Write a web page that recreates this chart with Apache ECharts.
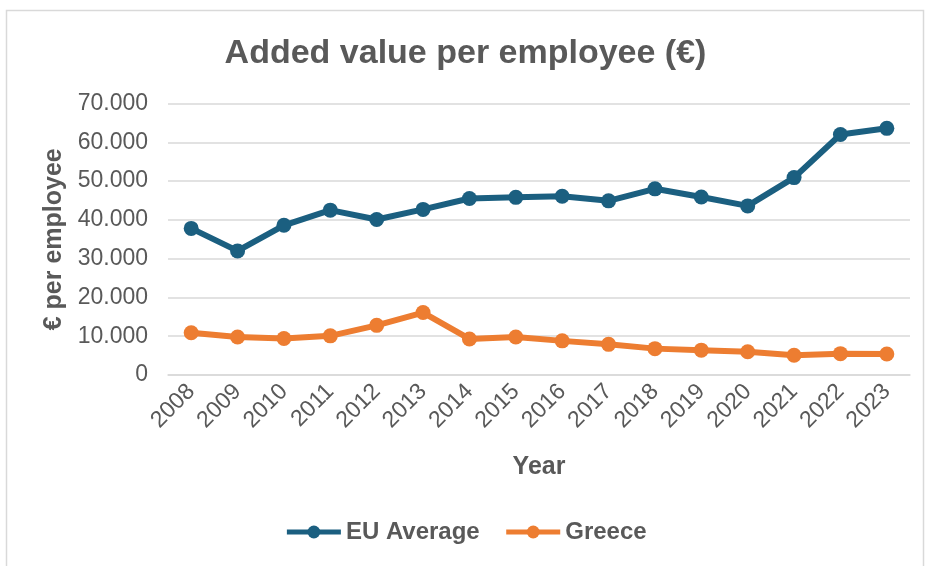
<!DOCTYPE html>
<html>
<head>
<meta charset="utf-8">
<script src="https://cdn.jsdelivr.net/npm/echarts@6/dist/echarts.min.js"></script>
<style>
html,body{margin:0;padding:0;background:#fff;}
#c{width:931px;height:566px;}
</style>
</head>
<body>
<div id="c"></div>
<script>
const years = ['2008','2009','2010','2011','2012','2013','2014','2015','2016','2017','2018','2019','2020','2021','2022','2023'];
const euAverage = [37800, 32000, 38600, 42500, 40100, 42700, 45500, 45800, 46100, 44900, 48000, 45900, 43600, 50900, 62000, 63600];
const greece = [10900, 9800, 9400, 10100, 12800, 16100, 9300, 9800, 8800, 7900, 6800, 6400, 6000, 5100, 5500, 5400];
const yTicks = [0, 10000, 20000, 30000, 40000, 50000, 60000, 70000];

const textColor = '#595959';
const font = 'Liberation Sans, Arial, sans-serif';
const chart = echarts.init(document.getElementById('c'));
chart.setOption({
  backgroundColor: '#fff',
  animation: false,
  title: {
    text: 'Added value per employee (€)',
    left: 'center',
    top: 32,
    textStyle: {fontFamily: font, fontSize: 34, fontWeight: 'bold', color: textColor}
  },
  graphic: [{
    type: 'rect',
    shape: {x: 6.5, y: 10.5, width: 917, height: 560},
    style: {fill: 'none', stroke: '#d9d9d9', lineWidth: 1.5},
    silent: true
  }],
  legend: {
    bottom: 17,
    left: 'center',
    itemWidth: 54,
    itemHeight: 16,
    itemGap: 24,
    lineStyle: {width: 5},
    textStyle: {fontFamily: font, fontSize: 24, fontWeight: 'bold', color: textColor},
    data: ['EU Average', 'Greece']
  },
  grid: {left: 168, right: 21, top: 103.5, bottom: 191},
  xAxis: {
    type: 'category',
    data: years,
    boundaryGap: true,
    name: 'Year',
    nameLocation: 'middle',
    nameGap: 80,
    nameTextStyle: {fontFamily: font, fontSize: 25, fontWeight: 'bold', color: textColor},
    axisLine: {show: true, lineStyle: {color: '#d9d9d9', width: 1.5}},
    axisTick: {show: false},
    axisLabel: {rotate: 45, fontFamily: font, fontSize: 23, color: textColor, margin: 13}
  },
  yAxis: {
    type: 'value',
    min: yTicks[0],
    max: yTicks[yTicks.length - 1],
    interval: 10000,
    name: '€ per employee',
    nameLocation: 'middle',
    nameGap: 84,
    nameTextStyle: {fontFamily: font, fontSize: 25, fontWeight: 'bold', color: textColor},
    axisLine: {show: false},
    axisTick: {show: false},
    splitLine: {lineStyle: {color: '#d9d9d9', width: 1.5}},
    axisLabel: {
      fontFamily: font, fontSize: 23, color: textColor, margin: 20,
      formatter: v => v === 0 ? '0' : v.toLocaleString('de-DE')
    }
  },
  series: [
    {
      name: 'EU Average', type: 'line', data: euAverage,
      symbol: 'circle', symbolSize: 15,
      lineStyle: {width: 6, color: '#1b5f80'},
      itemStyle: {color: '#1b5f80'}
    },
    {
      name: 'Greece', type: 'line', data: greece,
      symbol: 'circle', symbolSize: 15,
      lineStyle: {width: 6, color: '#ed7d31'},
      itemStyle: {color: '#ed7d31'}
    }
  ]
});
</script>
</body>
</html>
